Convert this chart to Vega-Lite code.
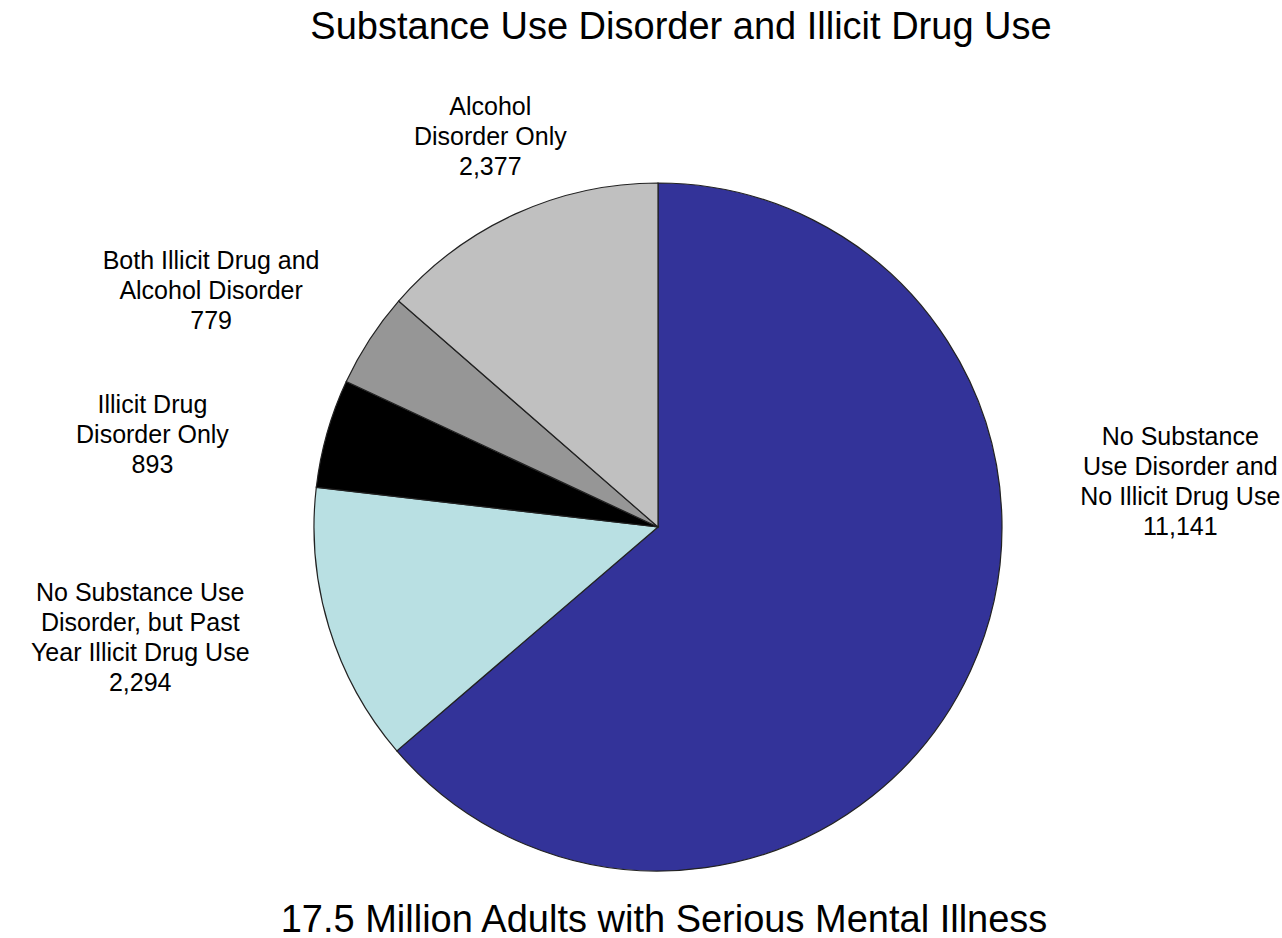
{
  "$schema": "https://vega.github.io/schema/vega-lite/v6.json",
  "padding": {"top": 9, "left": 0, "right": 0, "bottom": 0},
  "background": "white",
  "title": {
    "text": "Substance Use Disorder and Illicit Drug Use",
    "font": "Liberation Sans",
    "fontSize": 38,
    "fontWeight": "normal",
    "color": "black",
    "anchor": "middle",
    "dx": 23,
    "offset": -37
  },
  "vconcat": [
    {
      "width": 1316,
      "height": 726,
      "title": {
        "text": "17.5 Million Adults with Serious Mental Illness",
        "orient": "bottom",
        "frame": "group",
        "font": "Liberation Sans",
        "fontSize": 38,
        "fontWeight": "normal",
        "color": "black",
        "anchor": "middle",
        "dx": 6,
        "offset": -53
      },
      "data": {
        "values": [
          {"category": "No Substance Use Disorder and No Illicit Drug Use", "label": "No Substance\nUse Disorder and\nNo Illicit Drug Use\n11,141", "value": 11141, "order": 1},
          {"category": "No Substance Use Disorder, but Past Year Illicit Drug Use", "label": "No Substance Use\nDisorder, but Past\nYear Illicit Drug Use\n2,294", "value": 2294, "order": 2},
          {"category": "Illicit Drug Disorder Only", "label": "Illicit Drug\nDisorder Only\n893", "value": 893, "order": 3},
          {"category": "Both Illicit Drug and Alcohol Disorder", "label": "Both Illicit Drug and\nAlcohol Disorder\n779", "value": 779, "order": 4},
          {"category": "Alcohol Disorder Only", "label": "Alcohol\nDisorder Only\n2,377", "value": 2377, "order": 5}
        ]
      },
      "layer": [
        {
          "mark": {"type": "arc", "outerRadius": 344, "stroke": "#222222", "strokeWidth": 1.2},
          "encoding": {
            "theta": {"field": "value", "type": "quantitative", "stack": true},
            "order": {"field": "order", "type": "quantitative"},
            "color": {
              "field": "category",
              "type": "nominal",
              "sort": null,
              "scale": {
                "domain": [
                  "No Substance Use Disorder and No Illicit Drug Use",
                  "No Substance Use Disorder, but Past Year Illicit Drug Use",
                  "Illicit Drug Disorder Only",
                  "Both Illicit Drug and Alcohol Disorder",
                  "Alcohol Disorder Only"
                ],
                "range": ["#333399", "#B9E0E3", "#000000", "#969696", "#C0C0C0"]
              },
              "legend": null
            }
          }
        },
        {
          "mark": {"type": "text", "radius": 520, "thetaOffset": -0.04, "font": "Liberation Sans", "fontSize": 25, "lineHeight": 30, "lineBreak": "\n", "align": "center", "baseline": "middle", "color": "black"},
          "encoding": {
            "theta": {"field": "value", "type": "quantitative", "stack": true},
            "order": {"field": "order", "type": "quantitative"},
            "text": {
              "condition": {"test": "datum.order != 3 && datum.order != 4", "value": ""},
              "field": "label",
              "type": "nominal"
            }
          }
        },
        {
          "mark": {"type": "text", "radius": 522, "thetaOffset": 0.169, "font": "Liberation Sans", "fontSize": 25, "lineHeight": 30, "lineBreak": "\n", "align": "center", "baseline": "middle", "color": "black"},
          "encoding": {
            "theta": {"field": "value", "type": "quantitative", "stack": true},
            "order": {"field": "order", "type": "quantitative"},
            "text": {
              "condition": {"test": "datum.order != 2", "value": ""},
              "field": "label",
              "type": "nominal"
            }
          }
        },
        {
          "mark": {"type": "text", "radius": 452, "thetaOffset": 0.047, "font": "Liberation Sans", "fontSize": 25, "lineHeight": 30, "lineBreak": "\n", "align": "center", "baseline": "middle", "color": "black"},
          "encoding": {
            "theta": {"field": "value", "type": "quantitative", "stack": true},
            "order": {"field": "order", "type": "quantitative"},
            "text": {
              "condition": {"test": "datum.order != 5", "value": ""},
              "field": "label",
              "type": "nominal"
            }
          }
        },
        {
          "mark": {"type": "text", "radius": 530, "thetaOffset": -0.602, "font": "Liberation Sans", "fontSize": 25, "lineHeight": 30, "lineBreak": "\n", "align": "center", "baseline": "middle", "color": "black"},
          "encoding": {
            "theta": {"field": "value", "type": "quantitative", "stack": true},
            "order": {"field": "order", "type": "quantitative"},
            "text": {
              "condition": {"test": "datum.order != 1", "value": ""},
              "field": "label",
              "type": "nominal"
            }
          }
        }
      ]
    }
  ],
  "config": {"view": {"stroke": null}, "concat": {"spacing": 0}}
}
